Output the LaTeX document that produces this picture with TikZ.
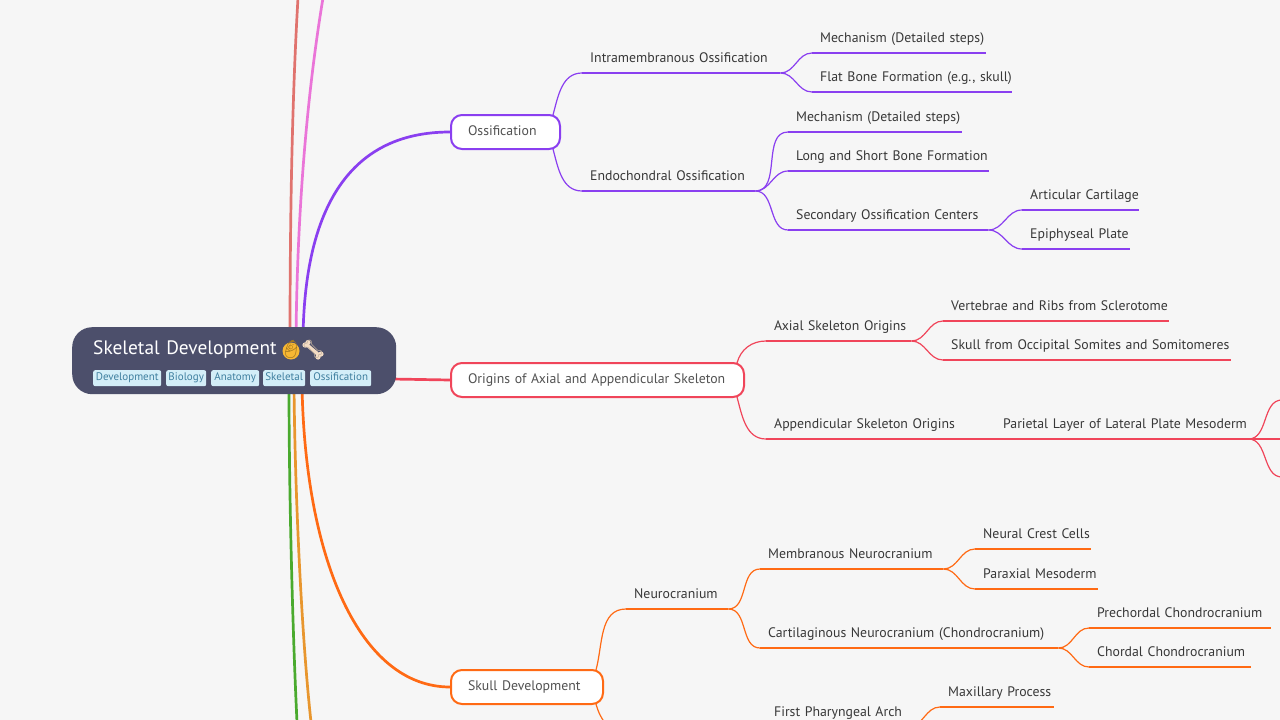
\documentclass[tikz,border=0pt]{standalone}
\usepackage{xcolor}
\usepackage{fontspec}
\setmainfont{PT Sans}
\newfontfamily\emojifont{Noto Emoji}
\usetikzlibrary{positioning,backgrounds}

\definecolor{pagebg}{HTML}{F6F6F6}
\definecolor{rootfill}{HTML}{4C4F6B}
\definecolor{tagfill}{HTML}{D3EEF8}
\definecolor{tagtext}{HTML}{3F7F9F}
\definecolor{ossifcol}{HTML}{8A3FF0}
\definecolor{origincol}{HTML}{F0455A}
\definecolor{skullcol}{HTML}{FF6A14}
\definecolor{salmoncol}{HTML}{E0736E}
\definecolor{pinkcol}{HTML}{EA75D8}
\definecolor{greencol}{HTML}{4AAA2E}
\definecolor{ambercol}{HTML}{E8962E}
\definecolor{babycol}{HTML}{F7B733}
\definecolor{bonecol}{HTML}{F3DCC4}

\tikzset{
    twiglabel/.style={anchor=south west, inner xsep=0pt, inner ysep=7pt, text height=11pt, text depth=3pt,
        align=left, font=\fontsize{13.8}{16}\selectfont, text=black!78,
        execute at begin node={\hspace*{8pt}\hbox\bgroup}, execute at end node={\egroup}},
    topicbox/.style={anchor=west, draw=#1, fill=white, line width=2pt, rounded corners=11pt, minimum height=34pt,
        inner xsep=0pt, text height=10pt, text depth=4pt, align=left, font=\fontsize{13.8}{16}\selectfont, text=black!68,
        execute at begin node={\hspace*{17pt}\hbox\bgroup}, execute at end node={\egroup}},
    tagbox/.style={anchor=north west, fill=tagfill, rounded corners=2pt, inner xsep=0pt, inner ysep=0pt,
        minimum height=16pt, text height=8pt, text depth=2.5pt, font=\fontsize{11}{12}\selectfont, text=tagtext},
    trunk/.style={line width=2.7pt},
    twig/.style={line width=1.2pt, draw=#1}
}

\begin{document}
\begin{tikzpicture}[x=1pt,y=-1pt]
    \useasboundingbox (0,0) rectangle (1280,720);
    \clip (0,0) rectangle (1280,720);

    % Central topic
    \node[anchor=north west, fill=rootfill, rounded corners=20pt, minimum width=324pt, inner xsep=0pt, inner ysep=6pt,
        text width=324pt, text height=21pt, text depth=34pt, align=left, text=white, font=\fontsize{19.4}{22}\selectfont] (root) at (72,327)
        {\hspace*{21pt}Skeletal Development};

    % Emoji after the title
    \fill[babycol] (291,351) circle (8.5pt);
    \draw[bonecol, line width=3.5pt, line cap=round] (307,345) -- (319,355);
    \fill[bonecol] (305,345) circle (2.6pt) (308,342.5) circle (2.6pt) (318,357) circle (2.6pt) (321,354) circle (2.6pt);
    \node[inner sep=0pt, text=black!35!babycol, font=\emojifont\fontsize{18}{18}\selectfont] (baby) at (291,349) {👶};
    \node[inner sep=0pt, text=black!20!bonecol, font=\emojifont\fontsize{18}{18}\selectfont] (bone) at (313,349) {🦴};

    % Tags
    \node[tagbox, minimum width=68pt] (tagdev) at (93,370) {Development};
    \node[tagbox, minimum width=40pt] (tagbio) at (166,370) {Biology};
    \node[tagbox, minimum width=48pt] (taganat) at (211,370) {Anatomy};
    \node[tagbox, minimum width=42pt] (tagskel) at (263,370) {Skeletal};
    \node[tagbox, minimum width=61pt] (tagoss) at (310,370) {Ossification};

    % Main topics
    \node[topicbox=ossifcol, text width=109pt] (ossif) at (450,132) {Ossification};
    \node[topicbox=origincol, text width=293pt] (origins) at (450,380) {Origins of Axial and Appendicular Skeleton};
    \node[topicbox=skullcol, text width=152pt] (skull) at (450,687) {Skull Development};

    % Ossification labels
    \node[twiglabel, text width=198pt] (intra) at (582,73) {Intramembranous Ossification};
    \node[twiglabel, text width=173pt] (endo) at (582,191) {Endochondral Ossification};
    \node[twiglabel, text width=174pt] (mechone) at (812,53) {Mechanism (Detailed steps)};
    \node[twiglabel, text width=200pt] (flat) at (812,92) {Flat Bone Formation (e.g., skull)};
    \node[twiglabel, text width=174pt] (mechtwo) at (788,132) {Mechanism (Detailed steps)};
    \node[twiglabel, text width=201pt] (longbone) at (788,171) {Long and Short Bone Formation};
    \node[twiglabel, text width=200pt] (second) at (788,230) {Secondary Ossification Centers};
    \node[twiglabel, text width=117pt] (artic) at (1022,210) {Articular Cartilage};
    \node[twiglabel, text width=108pt] (epiph) at (1022,249) {Epiphyseal Plate};

    % Origins labels
    \node[twiglabel, text width=145pt] (axial) at (766,341) {Axial Skeleton Origins};
    \node[twiglabel, text width=229pt] (append) at (766,439) {Appendicular Skeleton Origins};
    \node[twiglabel, text width=226pt] (verteb) at (943,321) {Vertebrae and Ribs from Sclerotome};
    \node[twiglabel, text width=288pt] (occip) at (943,360) {Skull from Occipital Somites and Somitomeres};
    \node[twiglabel, text width=253pt] (pariet) at (995,439) {Parietal Layer of Lateral Plate Mesoderm};

    % Skull labels
    \node[twiglabel, text width=102pt] (neuro) at (626,609) {Neurocranium};
    \node[twiglabel, text width=183pt] (memb) at (760,569) {Membranous Neurocranium};
    \node[twiglabel, text width=298pt] (cartil) at (760,648) {Cartilaginous Neurocranium (Chondrocranium)};
    \node[twiglabel, text width=116pt] (crest) at (975,549) {Neural Crest Cells};
    \node[twiglabel, text width=123pt] (parax) at (975,589) {Paraxial Mesoderm};
    \node[twiglabel, text width=182pt] (prech) at (1089,628) {Prechordal Chondrocranium};
    \node[twiglabel, text width=162pt] (chord) at (1089,667) {Chordal Chondrocranium};
    \node[twiglabel, text width=142pt] (pharyn) at (766,727) {First Pharyngeal Arch};
    \node[twiglabel, text width=114pt] (maxil) at (940,707) {Maxillary Process};

    % Free ends
    \coordinate (rootup) at (303,340);
    \coordinate (rootdown) at (302,385);
    \coordinate (outa) at (1282,400);
    \coordinate (outb) at (1282,439);
    \coordinate (outc) at (1282,477);

    \begin{scope}[on background layer]
        \fill[pagebg] (0,0) rectangle (1280,720);
        % Main connectors
        \draw[trunk, salmoncol] (298,-2) .. controls (292,100) and (290,220) .. (290,340);
        \draw[trunk, pinkcol] (323,-2) .. controls (306,100) and (297,220) .. (296,340);
        \draw[trunk, greencol] (289,385) .. controls (289,500) and (293,640) .. (297,722);
        \draw[trunk, ambercol] (294,385) .. controls (295,500) and (302,640) .. (311,722);
        \draw[trunk, ossifcol] (rootup) .. controls (304,215) and (345,132) .. (ossif.west);
        \draw[trunk, origincol] (root.east |- origins.west) ++(-5,-1) -- (origins.west);
        \draw[trunk, skullcol] (rootdown) .. controls (305,560) and (360,687) .. (skull.west);
    \end{scope}

    % Twigs and their underlines
    \foreach \n in {intra,endo,mechone,flat,mechtwo,longbone,second,artic,epiph}
        \draw[twig=ossifcol] (\n.south west) -- (\n.south east);
    \foreach \a/\b in {intra/mechone,intra/flat,endo/mechtwo,endo/longbone,endo/second,second/artic,second/epiph}
        \draw[twig=ossifcol] (\a.south east) to[out=0,in=180] (\b.south west);
    \draw[twig=ossifcol] (ossif.north east) ++(-8,1) to[out=75,in=180] (intra.south west);
    \draw[twig=ossifcol] (ossif.south east) ++(-8,-1) to[out=-75,in=180] (endo.south west);

    \foreach \n in {axial,append,verteb,occip,pariet}
        \draw[twig=origincol] (\n.south west) -- (\n.south east);
    \foreach \a/\b in {axial/verteb,axial/occip}
        \draw[twig=origincol] (\a.south east) to[out=0,in=180] (\b.south west);
    \draw[twig=origincol] (origins.north east) ++(-8,1) to[out=75,in=180] (axial.south west);
    \draw[twig=origincol] (origins.south east) ++(-8,-1) to[out=-75,in=180] (append.south west);
    \draw[twig=origincol] (pariet.south east) to[out=0,in=180] (outa);
    \draw[twig=origincol] (pariet.south east) -- (outb);
    \draw[twig=origincol] (pariet.south east) to[out=0,in=180] (outc);

    \foreach \n in {neuro,memb,cartil,crest,parax,prech,chord,pharyn,maxil}
        \draw[twig=skullcol] (\n.south west) -- (\n.south east);
    \foreach \a/\b in {neuro/memb,neuro/cartil,memb/crest,memb/parax,cartil/prech,cartil/chord,pharyn/maxil}
        \draw[twig=skullcol] (\a.south east) to[out=0,in=180] (\b.south west);
    \draw[twig=skullcol] (skull.north east) ++(-8,1) to[out=75,in=180] (neuro.south west);
    \draw[twig=skullcol] (skull.south east) ++(-8,-1) to[out=-75,in=180] (pharyn.south west);
\end{tikzpicture}
\end{document}
